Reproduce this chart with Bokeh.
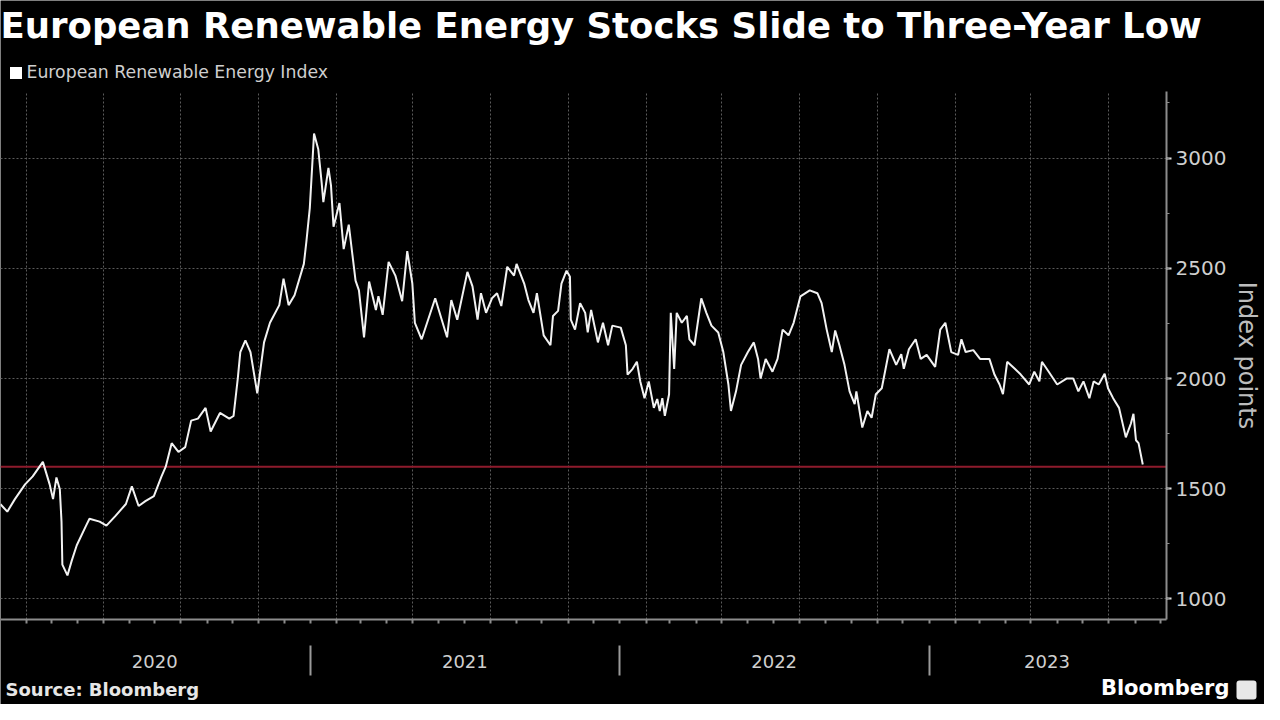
import pandas as pd
from bokeh.plotting import figure
from bokeh.models import (ColumnDataSource, Range1d, DatetimeAxis, FixedTicker, MonthsTicker,
                          SingleIntervalTicker, DatetimeTickFormatter, CustomJSTickFormatter,
                          Label, Legend, LegendItem, BoxAnnotation)
from bokeh.embed import file_html
from bokeh.resources import INLINE

# ---------------- data ----------------
title_text = "European Renewable Energy Stocks Slide to Three-Year Low"
series_name = "European Renewable Energy Index"
y_axis_title = "Index points"
source_text = "Source: Bloomberg"
brand_text = "Bloomberg"

start_date = "2020-01-01"
# days after start_date for each observation
day_offsets = [
    0, 8, 17, 29, 38, 50, 58, 62, 66, 70,
    72, 73, 79, 84, 90, 101, 105, 117, 125, 136,
    148, 155, 163, 171, 181, 190, 195, 202, 210, 218,
    225, 233, 242, 248, 259, 270, 275, 280, 283, 289,
    295, 303, 311, 318, 329, 334, 340, 347, 358, 361,
    365, 370, 375, 379, 381, 387, 390, 393, 400, 405,
    411, 419, 423, 429, 435, 443, 446, 451, 458, 466,
    474, 480, 486, 489, 497, 513, 527, 532, 539, 551,
    557, 563, 567, 573, 580, 586, 591, 598, 606, 609,
    618, 623, 629, 633, 641, 649, 652, 658, 662, 668,
    672, 673, 678, 684, 690, 693, 697, 705, 711, 717,
    722, 732, 738, 740, 746, 751, 755, 760, 765, 771,
    775, 778, 781, 784, 789, 791, 795, 798, 804, 810,
    813, 819, 827, 833, 839, 847, 853, 859, 862, 868,
    874, 882, 889, 894, 897, 903, 911, 917, 923, 930,
    936, 944, 955, 964, 969, 975, 981, 985, 990, 996,
    1002, 1008, 1010, 1017, 1023, 1028, 1033, 1040, 1049, 1057,
    1063, 1066, 1072, 1080, 1086, 1093, 1103, 1109, 1115, 1122,
    1130, 1134, 1139, 1148, 1156, 1167, 1173, 1179, 1183, 1188,
    1197, 1204, 1214, 1220, 1226, 1229, 1237, 1247, 1258, 1266,
    1272, 1278, 1285, 1290, 1296, 1303, 1307, 1313, 1320, 1328,
    1334, 1337, 1340, 1343, 1348,
]
index_values = [
    1430, 1396, 1453, 1520, 1556, 1622, 1520, 1453, 1551, 1498,
    1351, 1156, 1107, 1173, 1244, 1333, 1364, 1351, 1333, 1378,
    1431, 1511, 1422, 1444, 1467, 1556, 1600, 1707, 1667, 1689,
    1809, 1818, 1867, 1760, 1844, 1818, 1830, 2000, 2120, 2173,
    2120, 1933, 2164, 2253, 2333, 2453, 2333, 2378, 2520, 2622,
    2773, 3111, 3040, 2889, 2800, 2956, 2876, 2689, 2796, 2587,
    2698, 2444, 2400, 2187, 2440, 2311, 2373, 2289, 2529, 2467,
    2351, 2578, 2431, 2253, 2178, 2364, 2187, 2356, 2267, 2484,
    2418, 2267, 2387, 2298, 2364, 2387, 2329, 2507, 2467, 2520,
    2431, 2356, 2298, 2387, 2196, 2151, 2284, 2307, 2431, 2489,
    2462, 2267, 2222, 2342, 2298, 2209, 2311, 2164, 2253, 2151,
    2240, 2231, 2151, 2018, 2044, 2076, 1987, 1911, 1987, 1867,
    1907, 1853, 1911, 1831, 1929, 2298, 2044, 2298, 2253, 2284,
    2178, 2151, 2364, 2298, 2240, 2209, 2120, 1973, 1853, 1942,
    2062, 2120, 2164, 2089, 2000, 2089, 2031, 2089, 2222, 2196,
    2253, 2373, 2400, 2387, 2342, 2222, 2120, 2218, 2151, 2062,
    1942, 1884, 1942, 1778, 1853, 1822, 1929, 1956, 2133, 2062,
    2111, 2044, 2133, 2178, 2089, 2107, 2053, 2222, 2253, 2120,
    2107, 2178, 2120, 2129, 2089, 2089, 2018, 1973, 1929, 2076,
    2044, 2018, 1973, 2031, 1987, 2076, 2031, 1973, 2000, 2000,
    1942, 1987, 1911, 1987, 1973, 2022, 1956, 1911, 1867, 1733,
    1796, 1840, 1720, 1707, 1610,
]
three_year_low = 1600

year_labels = ["2020", "2021", "2022", "2023"]
year_label_dates = ["2020-07-01", "2021-07-02", "2022-07-02", "2023-05-20"]
year_boundaries = ["2021-01-01", "2022-01-01", "2023-01-01"]
x_start, x_end = "2020-01-01", "2023-10-08"
y_start, y_end = 907, 3302


def ms(d):
    return pd.Timestamp(d).value / 1e6


dates = pd.Timestamp(start_date) + pd.to_timedelta(day_offsets, unit="D")
source = ColumnDataSource(dict(date=dates, value=index_values))

# ---------------- layout geometry (canvas pixels) ----------------
W, H = 1264, 704
PLOT_RIGHT, PLOT_TOP, PLOT_BOTTOM = 1166, 91, 619

X0, X1 = ms(x_start), ms(x_end)
XPP = (X1 - X0) / PLOT_RIGHT
YPP = (y_end - y_start) / (PLOT_BOTTOM - PLOT_TOP)


def y_at(canvas_y):
    return y_end + (PLOT_TOP - canvas_y) * YPP


def sy(baseline_y, font_px):
    # screen units for a label (measured from the canvas bottom), corrected so
    # that the text baseline lands on baseline_y
    return H - baseline_y + 0.39 * font_px


BG = "black"
GRID = "#5a5a5a"
AXIS = "#8c8c8c"
TXT = "#cfcfcf"
EMPTY = CustomJSTickFormatter(code="return ''")

p = figure(width=W, height=H, x_axis_type="datetime", y_axis_location="right",
           x_range=Range1d(X0, X0 + W * XPP), y_range=Range1d(y_at(H), y_at(0)),
           output_backend="svg", toolbar_location=None, title=None, min_border=0)
p.background_fill_color = BG
p.border_fill_color = BG
p.outline_line_color = None

# y axis (right edge of the plot area)
ya = p.yaxis[0]
ya.fixed_location = X1
ya.bounds = (y_start, y_end)
ya.ticker = SingleIntervalTicker(interval=500, num_minor_ticks=2)
ya.axis_line_color = AXIS
ya.axis_line_width = 2
ya.major_tick_line_color = "#dddddd"
ya.major_tick_line_width = 2
ya.major_tick_in = 0
ya.major_tick_out = 5
ya.minor_tick_line_color = AXIS
ya.minor_tick_in = 0
ya.minor_tick_out = 3
ya.major_label_text_color = TXT
ya.major_label_text_font = "DejaVu Sans"
ya.major_label_text_font_size = "20px"
ya.major_label_standoff = 4
ya.axis_label = y_axis_title
ya.axis_label_text_color = "#bdbdbd"
ya.axis_label_text_font = "DejaVu Sans"
ya.axis_label_text_font_style = "normal"
ya.axis_label_text_font_size = "24px"
ya.axis_label_standoff = 4

# x axis: monthly ticks, no labels
xa = p.xaxis[0]
xa.fixed_location = y_start
xa.bounds = (X0, X1)
xa.ticker = MonthsTicker(months=list(range(1, 13)))
xa.formatter = EMPTY
xa.axis_line_color = AXIS
xa.axis_line_width = 2
xa.major_tick_line_color = AXIS
xa.major_tick_line_width = 2
xa.major_tick_in = 0
xa.major_tick_out = 4
xa.minor_tick_line_color = None
xa.major_label_text_font_size = "2px"
xa.major_label_standoff = 0

# year labels
year_axis = DatetimeAxis(
    ticker=FixedTicker(ticks=[ms(d) for d in year_label_dates], minor_ticks=[]),
    formatter=DatetimeTickFormatter(years="%Y", months="%Y", days="%Y", hours="%Y"),
    fixed_location=y_at(654), bounds=(X0, X1),
)
year_axis.major_label_overrides = {ms(d): lab for d, lab in zip(year_label_dates, year_labels)}
year_axis.axis_line_color = None
year_axis.major_tick_line_color = None
year_axis.minor_tick_line_color = None
year_axis.major_tick_in = 0
year_axis.major_tick_out = 0
year_axis.major_label_text_color = TXT
year_axis.major_label_text_font = "DejaVu Sans"
year_axis.major_label_text_font_size = "18px"
year_axis.major_label_standoff = 0
p.add_layout(year_axis, "below")

# year separators
sep_axis = DatetimeAxis(ticker=FixedTicker(ticks=[ms(d) for d in year_boundaries], minor_ticks=[]),
                        formatter=EMPTY, fixed_location=y_at(645), bounds=(X0, X1))
sep_axis.axis_line_color = None
sep_axis.major_tick_line_color = "#9a9a9a"
sep_axis.major_tick_line_width = 2
sep_axis.major_tick_in = 0
sep_axis.major_tick_out = 30
sep_axis.minor_tick_line_color = None
sep_axis.major_label_text_font_size = "2px"
sep_axis.major_label_standoff = 0
p.add_layout(sep_axis, "below")

# grids (limited to the plot area)
p.xgrid.ticker = MonthsTicker(months=[1, 4, 7, 10])
p.xgrid.bounds = (X0, X1)
p.xgrid.cross_bounds = (y_start, y_end)
p.ygrid.bounds = (y_start, y_end)
p.ygrid.cross_bounds = (X0, X1)
for g in (p.xgrid[0], p.ygrid[0]):
    g.grid_line_color = GRID
    g.grid_line_width = 1
    g.grid_line_dash = "2 2"

# three-year-low reference line
p.line(x=[X0, X1], y=[three_year_low, three_year_low], line_color="#8e1b2c", line_width=2)

# data line
line_r = p.line("date", "value", source=source, line_color="#f2f2f2", line_width=2)

# legend (white square marker); the square renderer has a single empty (NaN) row
nan = float("nan")
sq = p.quad(left=[nan], right=[nan], top=[nan], bottom=[nan], fill_color="white", line_color=None)
legend = Legend(items=[LegendItem(label=series_name, renderers=[sq], index=0)],
                location=(7.5, H - 63 - 19), orientation="horizontal",
                padding=0, margin=0, spacing=0,
                glyph_width=15, glyph_height=15, label_standoff=4, label_height=15,
                border_line_color=None, background_fill_alpha=0,
                label_text_color="#cfcfcf", label_text_font="DejaVu Sans",
                label_text_font_size="17.3px")
p.add_layout(legend, "center")

# texts
p.add_layout(Label(x=0, y=sy(39, 35.5), x_units="screen", y_units="screen", text=title_text,
                   text_font="DejaVu Sans", text_font_style="bold", text_font_size="35.5px",
                   text_color="white", text_align="left", text_baseline="alphabetic"))
p.add_layout(Label(x=5, y=sy(696, 18), x_units="screen", y_units="screen", text=source_text,
                   text_font="DejaVu Sans", text_font_style="bold", text_font_size="18px",
                   text_color="#e6e6e6", text_align="left", text_baseline="alphabetic"))
p.add_layout(Label(x=1229, y=sy(696, 21), x_units="screen", y_units="screen", text=brand_text,
                   text_font="DejaVu Sans", text_font_style="bold", text_font_size="21px",
                   text_color="white", text_align="right", text_baseline="alphabetic"))
# small brand badge next to the word mark
p.add_layout(BoxAnnotation(left=1236, right=1256, top=H - 680, bottom=H - 699,
                           left_units="screen", right_units="screen",
                           top_units="screen", bottom_units="screen",
                           fill_color="#e8e8e8", fill_alpha=1, line_color=None,
                           border_radius=3))

open("out.html", "w").write(file_html(p, INLINE))
